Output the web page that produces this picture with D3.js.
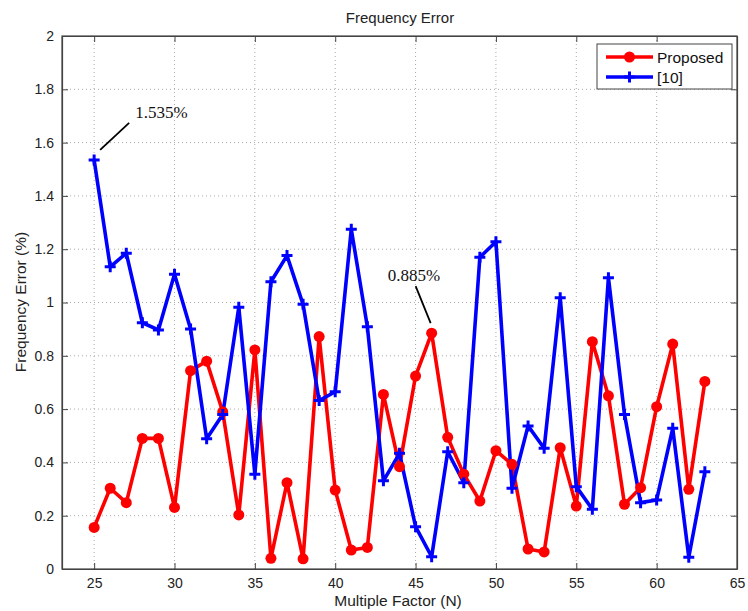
<!DOCTYPE html>
<html>
<head>
<meta charset="utf-8">
<script src="https://cdn.jsdelivr.net/npm/d3@7"></script>
<style>
html,body{margin:0;padding:0;background:#fff;}
svg{display:block;font-family:"Liberation Sans",Arial,sans-serif;}
</style>
</head>
<body>
<svg id="chart" width="748" height="611"></svg>
<script>
const factors = [25,26,27,28,29,30,31,32,33,34,35,36,37,38,39,40,41,42,43,44,45,46,47,48,49,50,51,52,53,54,55,56,57,58,59,60,61,62,63];
const proposed = [0.156,0.303,0.249,0.490,0.490,0.231,0.744,0.780,0.590,0.203,0.822,0.040,0.324,0.038,0.872,0.296,0.071,0.081,0.655,0.384,0.724,0.885,0.494,0.356,0.255,0.444,0.393,0.075,0.064,0.455,0.236,0.853,0.650,0.243,0.305,0.609,0.844,0.299,0.704];
const ref10 = [1.535,1.134,1.185,0.924,0.897,1.106,0.901,0.489,0.580,0.982,0.356,1.078,1.176,0.993,0.632,0.665,1.275,0.909,0.331,0.434,0.159,0.046,0.440,0.324,1.170,1.228,0.303,0.537,0.453,1.018,0.309,0.224,1.093,0.580,0.249,0.259,0.528,0.044,0.365];
const xTicks = [25,30,35,40,45,50,55,60,65];
const yTicks = [0,0.2,0.4,0.6,0.8,1,1.2,1.4,1.6,1.8,2];
const seriesNames = ["Proposed","[10]"];
const seriesColors = ["#ff0000","#0000ff"];
const annotations = [{x:25,y:1.535,text:"1.535%"},{x:46,y:0.885,text:"0.885%"}];

const svg = d3.select("#chart");
const L=62, R=737, T=36, B=569;
const x = d3.scaleLinear().domain([23,65]).range([L,R]);
const y = d3.scaleLinear().domain([0,2]).range([B,T]);

// grid
const g = svg.append("g");
g.selectAll(".gx").data(xTicks.filter(d=>d<65)).enter().append("line")
  .attr("x1",d=>x(d)).attr("x2",d=>x(d)).attr("y1",T).attr("y2",B)
  .attr("stroke","#aaa").attr("stroke-width",1).attr("stroke-dasharray","1,3");
g.selectAll(".gy").data(yTicks.filter(d=>d>0&&d<2)).enter().append("line")
  .attr("x1",L).attr("x2",R).attr("y1",d=>y(d)).attr("y2",d=>y(d))
  .attr("stroke","#aaa").attr("stroke-width",1).attr("stroke-dasharray","1,3");

// axes
const xAxis = d3.axisBottom(x).tickValues(xTicks).tickSizeInner(-6).tickSizeOuter(0).tickPadding(9).tickFormat(d3.format("d"));
const yAxis = d3.axisLeft(y).tickValues(yTicks).tickSizeInner(-6).tickSizeOuter(0).tickPadding(8).tickFormat(d=>d3.format("~g")(d));
const xa = svg.append("g").attr("transform",`translate(0,${B})`).call(xAxis);
const ya = svg.append("g").attr("transform",`translate(${L},0)`).call(yAxis);
const xa2 = svg.append("g").attr("transform",`translate(0,${T})`).call(d3.axisTop(x).tickValues(xTicks).tickSizeInner(-6).tickSizeOuter(0).tickFormat(""));
const ya2 = svg.append("g").attr("transform",`translate(${R},0)`).call(d3.axisRight(y).tickValues(yTicks).tickSizeInner(-6).tickSizeOuter(0).tickFormat(""));
[xa,ya,xa2,ya2].forEach(a=>{
  a.selectAll("path").attr("stroke","#444").attr("stroke-width",1.2);
  a.selectAll("line").attr("stroke","#444");
  a.selectAll("text").attr("font-size",14).attr("fill","#222").attr("font-family","Liberation Sans, Arial, sans-serif");
});
svg.append("rect").attr("x",L).attr("y",T).attr("width",R-L).attr("height",B-T).attr("fill","none").attr("stroke","#444").attr("stroke-width",1.2);

// lines
const data = [proposed, ref10];
const line = d3.line().x((d,i)=>x(factors[i])).y(d=>y(d));
data.forEach((vals,k)=>{
  svg.append("path").datum(vals).attr("d",line).attr("fill","none")
    .attr("stroke",seriesColors[k]).attr("stroke-width",3.6).attr("stroke-linejoin","round");
});
// markers
svg.selectAll(".dot").data(proposed).enter().append("circle")
  .attr("cx",(d,i)=>x(factors[i])).attr("cy",d=>y(d)).attr("r",5.5).attr("fill",seriesColors[0]);
svg.selectAll(".pl").data(ref10).enter().append("path")
  .attr("transform",(d,i)=>`translate(${x(factors[i])},${y(d)})`)
  .attr("d","M-5.5,0H5.5M0,-5.5V5.5").attr("stroke",seriesColors[1]).attr("stroke-width",3);

// annotations
const a0 = annotations[0], a1 = annotations[1];
svg.append("line").attr("x1",x(a0.x)+6).attr("y1",y(a0.y)-10).attr("x2",x(a0.x)+35).attr("y2",y(a0.y)-37).attr("stroke","#000").attr("stroke-width",1.8);
svg.append("text").attr("x",x(a0.x)+41).attr("y",y(a0.y)-42).text(a0.text)
  .attr("font-family","Liberation Serif, Times New Roman, serif").attr("font-size",17).attr("fill","#111");
svg.append("line").attr("x1",x(a1.x)-1).attr("y1",y(a1.y)-10).attr("x2",x(a1.x)-16).attr("y2",y(a1.y)-47).attr("stroke","#000").attr("stroke-width",1.8);
svg.append("text").attr("x",x(a1.x)-44).attr("y",y(a1.y)-52).text(a1.text)
  .attr("font-family","Liberation Serif, Times New Roman, serif").attr("font-size",17).attr("fill","#111");

// title & labels
svg.append("text").attr("x",400).attr("y",23).attr("text-anchor","middle").attr("font-size",15).attr("fill","#222").text("Frequency Error");
svg.append("text").attr("x",398).attr("y",606).attr("text-anchor","middle").attr("font-size",15.5).attr("fill","#222").text("Multiple Factor (N)");
svg.append("text").attr("transform","translate(26,302) rotate(-90)").attr("text-anchor","middle").attr("font-size",15.5).attr("fill","#222").text("Frequency Error (%)");

// legend
const lg = svg.append("g");
lg.append("rect").attr("x",597).attr("y",44).attr("width",135).attr("height",45).attr("fill","#fff").attr("stroke","#444").attr("stroke-width",1);
seriesNames.forEach((n,k)=>{
  const yy = 57 + k*20;
  lg.append("line").attr("x1",606).attr("x2",653).attr("y1",yy).attr("y2",yy).attr("stroke",seriesColors[k]).attr("stroke-width",3.6);
  if(k===0) lg.append("circle").attr("cx",629.5).attr("cy",yy).attr("r",5.5).attr("fill",seriesColors[k]);
  else lg.append("path").attr("transform",`translate(629.5,${yy})`).attr("d","M-5.5,0H5.5M0,-5.5V5.5").attr("stroke",seriesColors[k]).attr("stroke-width",3);
  lg.append("text").attr("x",657).attr("y",yy+5.5).attr("font-size",15.5).attr("fill","#111").text(n);
});
</script>
</body>
</html>
